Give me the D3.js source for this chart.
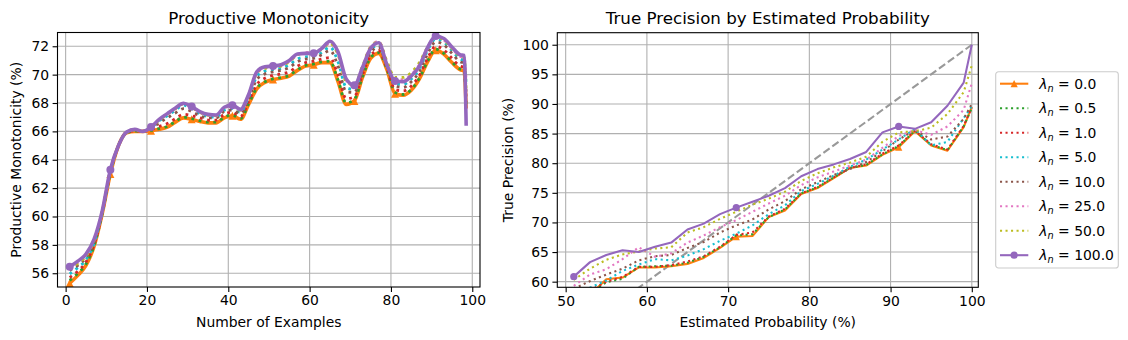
<!DOCTYPE html>
<html>
<head>
<meta charset="utf-8">
<script src="https://cdn.jsdelivr.net/npm/d3@7/dist/d3.min.js"></script>
<style>
  body { margin: 0; background: #fff; }
  svg text { font-family: "DejaVu Sans", sans-serif; fill: #000; }
</style>
</head>
<body>
<div id="chart"></div>
<script>
"use strict";

// lambda_n settings, one series per value
var lambdas = ["0.0", "0.5", "1.0", "5.0", "10.0", "25.0", "50.0", "100.0"];
var colors  = ["#ff7f0e", "#2ca02c", "#d62728", "#17becf", "#8c564b", "#e377c2", "#bcbd22", "#9467bd"];

// left panel: productive monotonicity vs number of examples
var monoX = [1,3,5,7,9,11,13,15,17,19,21,23,25,27,29,31,33,35,37,39,41,43,45,47,49,51,53,55,57,59,61,63,65,67,69,71,73,75,77,79,81,83,85,87,89,91,93,95,97,98,98.5];
var mono_0   = [55.3,55.85,56.55,57.9,60.2,63.0,65.0,65.9,66.0,66.0,66.05,66.15,66.3,66.65,66.95,66.85,66.7,66.6,66.6,66.95,67.1,66.85,67.9,69.0,69.45,69.65,69.75,69.9,70.3,70.6,70.7,70.85,70.85,69.5,67.9,68.15,69.8,71.15,71.5,70.35,68.65,68.55,68.9,69.7,70.9,71.72,71.45,70.85,70.35,70.25,67.6];
var mono_05  = [55.5,56.0,56.65,57.95,60.2,63.05,65.0,65.9,66.02,66.0,66.07,66.2,66.35,66.7,67.0,66.9,66.75,66.65,66.65,67.0,67.15,66.9,67.95,69.05,69.5,69.7,69.8,69.95,70.35,70.65,70.75,70.9,70.95,69.6,68.0,68.25,69.85,71.2,71.55,70.4,68.75,68.6,68.95,69.75,70.95,71.8,71.5,70.9,70.4,70.3,67.8];
var mono_1   = [55.7,56.15,56.8,58.0,60.25,63.1,65.0,65.92,66.05,66.0,66.12,66.35,66.55,66.9,67.2,67.1,66.95,66.8,66.8,67.2,67.35,67.05,68.1,69.3,69.75,69.95,70.05,70.2,70.6,70.85,70.95,71.1,71.2,69.95,68.3,68.45,70.0,71.35,71.7,70.5,68.95,68.85,69.2,69.95,71.15,72.0,71.75,71.15,70.6,70.5,68.1];
var mono_5   = [55.95,56.4,56.95,58.1,60.3,63.2,65.0,65.93,66.1,66.0,66.25,66.75,67.1,67.5,67.85,67.6,67.25,67.05,67.0,67.5,67.6,67.35,68.4,69.85,70.25,70.35,70.45,70.7,71.1,71.25,71.3,71.55,71.95,70.9,69.1,68.95,70.35,71.7,72.1,70.65,69.35,69.3,69.7,70.4,71.7,72.5,72.3,71.7,71.1,71.0,69.3];
var mono_10  = [56.2,56.55,57.1,58.2,60.3,63.2,65.0,65.93,66.1,66.0,66.2,66.6,66.95,67.3,67.6,67.4,67.1,66.95,66.95,67.4,67.5,67.25,68.3,69.65,70.05,70.2,70.3,70.5,70.9,71.1,71.15,71.4,71.7,70.6,68.8,68.75,70.2,71.55,71.95,70.6,69.2,69.1,69.5,70.2,71.45,72.3,72.1,71.5,70.9,70.8,68.6];
var mono_25  = [56.35,56.75,57.25,58.35,60.35,63.25,65.0,65.95,66.12,66.0,66.3,66.85,67.22,67.6,67.95,67.7,67.35,67.15,67.1,67.65,67.8,67.5,68.55,70.1,70.5,70.55,70.65,70.95,71.4,71.55,71.6,71.85,72.2,71.5,69.6,69.2,70.55,71.95,72.35,70.85,69.7,69.65,70.0,70.7,71.9,72.65,72.45,71.85,71.3,71.2,69.5];
var mono_50  = [56.3,56.7,57.2,58.3,60.35,63.25,65.0,65.95,66.12,66.0,66.28,66.8,67.2,67.6,67.95,67.7,67.35,67.15,67.12,67.7,67.85,67.5,68.55,70.1,70.45,70.5,70.6,70.9,71.4,71.5,71.5,71.8,72.2,71.4,69.5,69.25,70.6,71.95,72.3,70.95,69.8,69.8,70.15,70.85,71.95,72.65,72.45,71.85,71.3,71.2,68.9];
var mono_100 = [56.45,56.85,57.35,58.4,60.4,63.3,65.0,65.95,66.15,66.0,66.3,66.85,67.25,67.65,67.98,67.75,67.4,67.2,67.15,67.7,67.85,67.55,68.6,70.2,70.55,70.6,70.7,71.0,71.45,71.5,71.5,71.85,72.35,71.6,69.7,69.25,70.5,71.85,72.25,70.7,69.55,69.5,69.9,70.6,71.9,72.72,72.55,71.95,71.4,71.35,66.4];
var monoXTicks = [0, 20, 40, 60, 80, 100];
var monoYTicks = [56, 58, 60, 62, 64, 66, 68, 70, 72];

// right panel: true precision vs estimated probability
var precX = [51,53,55,57,59,61,63,65,67,69,71,73,75,77,79,81,83,85,87,89,91,93,95,97,99,100];
var prec_0   = [57.3,57.8,60.4,60.7,62.4,62.4,62.6,63.0,64.0,65.7,67.6,67.7,70.9,72.0,74.8,75.8,77.5,79.2,79.6,81.4,82.7,85.4,83.0,82.1,86.1,89.5];
var prec_05  = [57.5,58.1,59.9,60.5,62.5,62.6,62.7,63.2,64.2,65.8,67.8,68.0,70.9,72.2,74.9,75.9,77.6,79.2,79.7,81.5,82.9,85.5,83.1,82.2,86.2,89.3];
var prec_1   = [57.8,58.5,60.0,60.8,62.5,62.5,62.8,63.4,64.3,65.9,67.9,68.3,71.0,72.3,74.9,76.0,77.6,79.2,79.8,81.6,83.0,85.5,83.2,82.3,86.3,89.4];
var prec_5   = [58.2,59.0,60.2,61.8,62.9,63.8,63.6,64.4,65.5,66.9,68.1,69.5,71.4,72.9,75.3,76.5,77.9,79.4,80.6,82.3,84.0,85.8,83.0,83.6,87.6,89.6];
var prec_10  = [58.8,60.1,61.2,62.2,63.6,64.3,64.5,65.7,66.7,68.3,69.5,70.5,72.2,73.6,75.6,76.8,78.0,79.0,80.2,82.0,84.0,85.6,84.0,84.5,87.5,90.0];
var prec_25  = [59.3,61.2,62.1,63.8,65.8,64.2,64.8,66.6,67.8,69.2,70.4,71.8,73.2,74.5,76.3,77.6,78.6,79.6,80.6,82.6,84.6,85.6,84.8,86.2,89.0,93.5];
var prec_50  = [60.3,62.2,63.7,64.6,65.1,65.6,65.8,68.3,69.2,70.6,71.8,73.0,74.0,75.2,77.0,78.3,79.3,80.1,81.1,83.6,85.2,85.4,86.0,88.3,92.0,96.5];
var prec_100 = [60.85,63.3,64.5,65.3,65.0,65.9,66.6,68.8,69.8,71.4,72.5,73.5,74.5,75.8,77.8,79.0,79.8,80.7,81.9,85.2,86.2,85.8,86.9,89.7,93.6,100.0];
var diagX = [50, 100];
var precXTicks = [50, 60, 70, 80, 90, 100];
var precYTicks = [60, 65, 70, 75, 80, 85, 90, 95, 100];

var monoSeries = [mono_0, mono_05, mono_1, mono_5, mono_10, mono_25, mono_50, mono_100];
var precSeries = [prec_0, prec_05, prec_1, prec_5, prec_10, prec_25, prec_50, prec_100];

var W = 1128, H = 340;
var FS = 13.9;

var svg = d3.select("#chart").append("svg")
    .attr("width", W).attr("height", H)
    .style("display", "block");
svg.append("rect").attr("width", W).attr("height", H).attr("fill", "#fff");

function styleOf(i) {
    // first and last are solid with markers, the rest dotted
    if (i === 0) return { dash: null, marker: "tri" };
    if (i === lambdas.length - 1) return { dash: null, marker: "circle" };
    return { dash: "dot", marker: null };
}

function drawMarker(g, kind, cx, cy, r, color) {
    if (kind === "circle") {
        g.append("circle").attr("cx", cx).attr("cy", cy).attr("r", r).attr("fill", color);
    } else if (kind === "tri") {
        g.append("path")
            .attr("d", "M" + cx + "," + (cy - r) + "L" + (cx - r) + "," + (cy + r) + "L" + (cx + r) + "," + (cy + r) + "Z")
            .attr("fill", color);
    }
}

function panel(cfg) {
    var g = svg.append("g").attr("transform", "translate(" + cfg.left + "," + cfg.top + ")");
    var x = d3.scaleLinear().domain(cfg.xDomain).range([0, cfg.w]);
    var y = d3.scaleLinear().domain(cfg.yDomain).range([cfg.h, 0]);

    svg.append("defs").append("clipPath").attr("id", cfg.id)
        .append("rect").attr("width", cfg.w).attr("height", cfg.h);

    // grid
    g.selectAll(".gx").data(cfg.xTicks).join("line")
        .attr("x1", function (d) { return x(d); }).attr("x2", function (d) { return x(d); })
        .attr("y1", 0).attr("y2", cfg.h)
        .attr("stroke", "#b0b0b0").attr("stroke-width", 1.1);
    g.selectAll(".gy").data(cfg.yTicks).join("line")
        .attr("y1", function (d) { return y(d); }).attr("y2", function (d) { return y(d); })
        .attr("x1", 0).attr("x2", cfg.w)
        .attr("stroke", "#b0b0b0").attr("stroke-width", 1.1);

    var ax = g.append("g").attr("transform", "translate(0," + cfg.h + ")")
        .call(d3.axisBottom(x).tickValues(cfg.xTicks).tickSize(4.9).tickPadding(3.5).tickFormat(d3.format("d")));
    var ay = g.append("g")
        .call(d3.axisLeft(y).tickValues(cfg.yTicks).tickSize(4.9).tickPadding(3.5).tickFormat(d3.format("d")));
    [ax, ay].forEach(function (a) {
        a.select(".domain").remove();
        a.attr("font-size", FS).attr("font-family", "DejaVu Sans, sans-serif");
        a.selectAll("line").attr("stroke", "#000").attr("stroke-width", 1.1);
        a.selectAll("text").attr("fill", "#000");
    });

    var plot = g.append("g").attr("clip-path", "url(#" + cfg.id + ")");

    if (cfg.diag) {
        plot.append("path")
            .attr("d", d3.line().x(function (d) { return x(d); }).y(function (d) { return y(d); })(cfg.diag))
            .attr("fill", "none").attr("stroke", "#999999").attr("stroke-width", 2.08)
            .attr("stroke-dasharray", "7.7,3.3");
    }

    var line = d3.line().curve(cfg.curve);
    cfg.series.forEach(function (vals, i) {
        var st = styleOf(i);
        var pts = vals.map(function (v, k) { return [x(cfg.xs[k]), y(v)]; });
        var lw = st.dash ? cfg.dotLw : cfg.lw;
        var p = plot.append("path").attr("d", line(pts))
            .attr("fill", "none").attr("stroke", colors[i]).attr("stroke-width", lw)
            .attr("stroke-linejoin", "round");
        if (st.dash) p.attr("stroke-dasharray", lw + "," + (lw * 1.65));
        if (st.marker) {
            cfg.markIdx.forEach(function (k) {
                drawMarker(plot, st.marker, pts[k][0], pts[k][1], cfg.mr, colors[i]);
            });
        }
    });

    g.append("rect").attr("width", cfg.w).attr("height", cfg.h)
        .attr("fill", "none").attr("stroke", "#000").attr("stroke-width", 1.1);

    g.append("text").attr("x", cfg.w / 2).attr("y", -9).attr("text-anchor", "middle")
        .attr("font-size", 16.7).text(cfg.title);
    g.append("text").attr("x", cfg.w / 2).attr("y", cfg.h + 40).attr("text-anchor", "middle")
        .attr("font-size", FS).text(cfg.xLabel);
    g.append("text").attr("transform", "translate(" + cfg.yLabelX + "," + (cfg.h / 2) + ") rotate(-90)")
        .attr("text-anchor", "middle").attr("font-size", FS).text(cfg.yLabel);
}

panel({
    id: "clipMono", left: 57.5, top: 32.5, w: 422.5, h: 254.5,
    xDomain: [-2.0, 101.9], yDomain: [55.03, 72.97],
    xTicks: monoXTicks, yTicks: monoYTicks,
    xs: monoX, series: monoSeries, curve: d3.curveMonotoneX,
    lw: 3.6, dotLw: 2.8, mr: 4, markIdx: [0, 5, 10, 15, 20, 25, 30, 35, 40, 45],
    title: "Productive Monotonicity", xLabel: "Number of Examples",
    yLabel: "Productive Monotonicity (%)", yLabelX: -37
});

panel({
    id: "clipPrec", left: 557.3, top: 32.7, w: 421, h: 254.6,
    xDomain: [48.97, 100.8], yDomain: [59.05, 102.03],
    xTicks: precXTicks, yTicks: precYTicks,
    xs: precX, series: precSeries, curve: d3.curveLinear,
    lw: 2.08, dotLw: 2.08, mr: 3.6, markIdx: [0, 10, 20],
    diag: diagX,
    title: "True Precision by Estimated Probability", xLabel: "Estimated Probability (%)",
    yLabel: "True Precision (%)", yLabelX: -44.3
});

// legend
var lg = svg.append("g").attr("transform", "translate(995.7,71.7)");
lg.append("rect").attr("width", 122.6).attr("height", 196.3).attr("rx", 2.8)
    .attr("fill", "#fff").attr("fill-opacity", 0.8)
    .attr("stroke", "#cccccc").attr("stroke-width", 1.1);
lambdas.forEach(function (lam, i) {
    var cy = 12 + i * 24.5;
    var st = styleOf(i);
    var l = lg.append("line").attr("x1", 4.3).attr("x2", 32.6).attr("y1", cy).attr("y2", cy)
        .attr("stroke", colors[i]).attr("stroke-width", 2.08);
    if (st.dash) l.attr("stroke-dasharray", "2.08,3.43");
    if (st.marker) drawMarker(lg, st.marker, 18.45, cy, 3.6, colors[i]);
    var t = lg.append("text").attr("x", 43.6).attr("y", cy + 5).attr("font-size", FS);
    t.append("tspan").attr("font-style", "italic").text("λ");
    t.append("tspan").attr("font-style", "italic").attr("font-size", FS * 0.7).attr("dy", 3).text("n");
    t.append("tspan").attr("dy", -3).text(" = " + lam);
});
</script>
</body>
</html>
